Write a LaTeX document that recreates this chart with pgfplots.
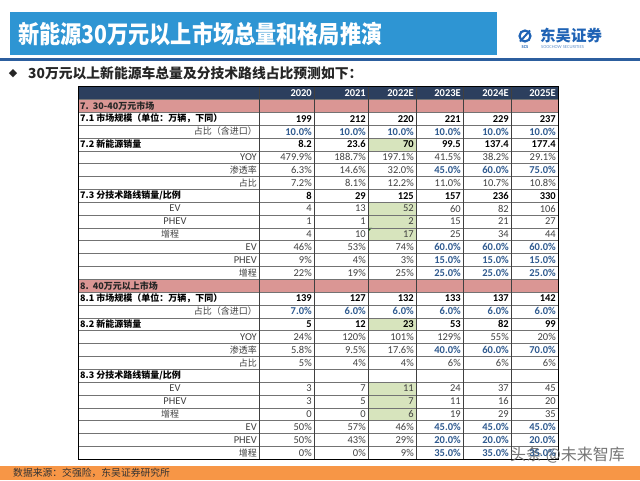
\documentclass[border=0pt]{standalone}
\usepackage{pgfplots}
\pgfplotsset{compat=1.18}
\usepackage{fontspec}
\setmainfont{Carlito}
\newfontfamily\cjk{Noto Sans CJK SC}
\newfontfamily\titlefont[FakeStretch=0.86]{Noto Sans CJK SC}
\newfontfamily\sym{DejaVu Sans}
\definecolor{titleblue}{HTML}{2E95D3}
\definecolor{lineblue}{HTML}{2C5E9E}
\definecolor{hdr}{HTML}{2C3F5E}
\definecolor{pinkrow}{HTML}{DA9694}
\definecolor{greencell}{HTML}{D7E4BD}
\definecolor{estblue}{HTML}{2F5A8F}
\definecolor{orangebar}{HTML}{F79646}
\definecolor{logoblue}{HTML}{1F63B5}
\definecolor{txt}{HTML}{404040}
\newcommand\fs[1]{\fontsize{#1}{#1}\selectfont}
\pgfplotsset{
  vals/.style 2 args={only marks, mark=none, nodes near coords, point meta=explicit symbolic,
    every node near coord/.append style={anchor=east, inner sep=0pt, font=#1, text=#2}},
}
\begin{document}
\begin{tikzpicture}
\begin{axis}[width=640pt,height=480pt,scale only axis,
  xmin=0,xmax=640,ymin=-6.7315,ymax=30.6226,y dir=reverse,
  hide axis,ticks=none,clip=false]
\coordinate (bl) at (axis cs:0,30.6226);
\coordinate (tr) at (axis cs:640,-6.7315);
% ---- backgrounds
\fill[titleblue] (axis cs:10,-5.798) rectangle (axis cs:497,-2.451);
\fill[lineblue] (axis cs:0,-2.218) rectangle (axis cs:640,-1.984);
\fill[hdr] (axis cs:78,0) rectangle (axis cs:558,1);
\fill[pinkrow] (axis cs:78,1) rectangle (axis cs:558,2);
\fill[pinkrow] (axis cs:78,15) rectangle (axis cs:558,16);
\fill[greencell] (axis cs:368,4) rectangle (axis cs:416,5);
\fill[greencell] (axis cs:368,9) rectangle (axis cs:416,12);
\fill[greencell] (axis cs:368,18) rectangle (axis cs:416,19);
\fill[greencell] (axis cs:368,23) rectangle (axis cs:416,26);
\fill[green!40!black] (axis cs:368,11) -- (axis cs:372,11) -- (axis cs:368,11.3) -- cycle;
\fill[orangebar] (axis cs:0,29.533) rectangle (axis cs:640,30.6226);
% ---- grid
\pgfplotsinvokeforeach{1,...,28}{\draw[black!55, line width=0.5pt] (axis cs:78,#1) -- (axis cs:558,#1);}
\pgfplotsinvokeforeach{259,314,368,416,463,511}{\draw[black!75, line width=0.6pt] (axis cs:#1,0) -- (axis cs:#1,29);}
\draw[black, line width=0.8pt] (axis cs:78,0) rectangle (axis cs:558,29);

% ---- header
\addplot[vals={\fs{10.5}\bfseries}{white}] coordinates {
 (312,0.5) [2020] (366,0.5) [2021] (414,0.5) [2022E] (461,0.5) [2023E] (509,0.5) [2024E] (556,0.5) [2025E]};

% ---- bold black values
\addplot[vals={\fs{10.5}\bfseries}{black}] coordinates {
 (312,2.5) [199] (366,2.5) [212] (414,2.5) [220] (461,2.5) [221] (509,2.5) [229] (556,2.5) [237]
 (312,4.5) [8.2] (366,4.5) [23.6] (414,4.5) [70] (461,4.5) [99.5] (509,4.5) [137.4] (556,4.5) [177.4]
 (312,8.5) [8] (366,8.5) [29] (414,8.5) [125] (461,8.5) [157] (509,8.5) [236] (556,8.5) [330]
 (312,16.5) [139] (366,16.5) [127] (414,16.5) [132] (461,16.5) [133] (509,16.5) [137] (556,16.5) [142]
 (312,18.5) [5] (366,18.5) [12] (414,18.5) [23] (461,18.5) [53] (509,18.5) [82] (556,18.5) [99]
};

% ---- blue bold (assumptions)
\addplot[vals={\fs{10.5}\bfseries}{estblue}] coordinates {
 (312,3.5) [10.0\%] (366,3.5) [10.0\%] (414,3.5) [10.0\%] (461,3.5) [10.0\%] (509,3.5) [10.0\%] (556,3.5) [10.0\%]
 (461,6.5) [45.0\%] (509,6.5) [60.0\%] (556,6.5) [75.0\%]
 (461,12.5) [60.0\%] (509,12.5) [60.0\%] (556,12.5) [60.0\%]
 (461,13.5) [15.0\%] (509,13.5) [15.0\%] (556,13.5) [15.0\%]
 (461,14.5) [25.0\%] (509,14.5) [25.0\%] (556,14.5) [25.0\%]
 (312,17.5) [7.0\%] (366,17.5) [6.0\%] (414,17.5) [6.0\%] (461,17.5) [6.0\%] (509,17.5) [6.0\%] (556,17.5) [6.0\%]
 (461,20.5) [40.0\%] (509,20.5) [60.0\%] (556,20.5) [70.0\%]
 (461,26.5) [45.0\%] (509,26.5) [45.0\%] (556,26.5) [45.0\%]
 (461,27.5) [20.0\%] (509,27.5) [20.0\%] (556,27.5) [20.0\%]
 (461,28.5) [35.0\%] (509,28.5) [35.0\%] (556,28.5) [35.0\%]
};

% ---- normal values
\addplot[vals={\fs{10.5}}{txt}] coordinates {
 (312,5.5) [479.9\%] (366,5.5) [188.7\%] (414,5.5) [197.1\%] (461,5.5) [41.5\%] (509,5.5) [38.2\%] (556,5.5) [29.1\%]
 (312,6.5) [6.3\%] (366,6.5) [14.6\%] (414,6.5) [32.0\%]
 (312,7.5) [7.2\%] (366,7.5) [8.1\%] (414,7.5) [12.2\%] (461,7.5) [11.0\%] (509,7.5) [10.7\%] (556,7.5) [10.8\%]
 (312,9.5) [4] (366,9.5) [13] (414,9.5) [52] (461,9.5) [60] (509,9.5) [82] (556,9.5) [106]
 (312,10.5) [1] (366,10.5) [1] (414,10.5) [2] (461,10.5) [15] (509,10.5) [21] (556,10.5) [27]
 (312,11.5) [4] (366,11.5) [10] (414,11.5) [17] (461,11.5) [25] (509,11.5) [34] (556,11.5) [44]
 (312,12.5) [46\%] (366,12.5) [53\%] (414,12.5) [74\%]
 (312,13.5) [9\%] (366,13.5) [4\%] (414,13.5) [3\%]
 (312,14.5) [22\%] (366,14.5) [19\%] (414,14.5) [25\%]
 (312,19.5) [24\%] (366,19.5) [120\%] (414,19.5) [101\%] (461,19.5) [129\%] (509,19.5) [55\%] (556,19.5) [20\%]
 (312,20.5) [5.8\%] (366,20.5) [9.5\%] (414,20.5) [17.6\%]
 (312,21.5) [5\%] (366,21.5) [4\%] (414,21.5) [4\%] (461,21.5) [6\%] (509,21.5) [6\%] (556,21.5) [6\%]
 (312,23.5) [3] (366,23.5) [7] (414,23.5) [11] (461,23.5) [24] (509,23.5) [37] (556,23.5) [45]
 (312,24.5) [3] (366,24.5) [5] (414,24.5) [7] (461,24.5) [11] (509,24.5) [16] (556,24.5) [20]
 (312,25.5) [0] (366,25.5) [0] (414,25.5) [6] (461,25.5) [19] (509,25.5) [29] (556,25.5) [35]
 (312,26.5) [50\%] (366,26.5) [57\%] (414,26.5) [46\%]
 (312,27.5) [50\%] (366,27.5) [43\%] (414,27.5) [29\%]
 (312,28.5) [0\%] (366,28.5) [0\%] (414,28.5) [9\%]
};

% ---- row labels: section headings (left)
\tikzset{lbl/.style={inner sep=0pt, font=\cjk\fs{9}, text=txt}}
\node[lbl, anchor=west, font=\cjk\fs{9}\bfseries, text=black!85] at (axis cs:80,1.5) {7.\ \ 30-40万元市场};
\node[lbl, anchor=west, font=\cjk\fs{9}\bfseries, text=black!85] at (axis cs:80,15.5) {8.\ \ 40万元以上市场};
\node[lbl, anchor=west, font=\cjk\fs{9}\bfseries, text=black] at (axis cs:80,2.5) {7.1 市场规模（单位：万辆，下同）};
\node[lbl, anchor=west, font=\cjk\fs{9}\bfseries, text=black] at (axis cs:80,4.5) {7.2 新能源销量};
\node[lbl, anchor=west, font=\cjk\fs{9}\bfseries, text=black] at (axis cs:80,8.5) {7.3 分技术路线销量/比例};
\node[lbl, anchor=west, font=\cjk\fs{9}\bfseries, text=black] at (axis cs:80,16.5) {8.1 市场规模（单位：万辆，下同）};
\node[lbl, anchor=west, font=\cjk\fs{9}\bfseries, text=black] at (axis cs:80,18.5) {8.2 新能源销量};
\node[lbl, anchor=west, font=\cjk\fs{9}\bfseries, text=black] at (axis cs:80,22.5) {8.3 分技术路线销量/比例};
% right aligned
\node[lbl, anchor=east] at (axis cs:257,3.5) {占比（含进口）};
\node[lbl, anchor=east, font=\fs{10.5}] at (axis cs:257,5.5) {YOY};
\node[lbl, anchor=east] at (axis cs:257,6.5) {渗透率};
\node[lbl, anchor=east] at (axis cs:257,7.5) {占比};
\node[lbl, anchor=east, font=\fs{10.5}] at (axis cs:257,12.5) {EV};
\node[lbl, anchor=east, font=\fs{10.5}] at (axis cs:257,13.5) {PHEV};
\node[lbl, anchor=east] at (axis cs:257,14.5) {增程};
\node[lbl, anchor=east] at (axis cs:257,17.5) {占比（含进口）};
\node[lbl, anchor=east, font=\fs{10.5}] at (axis cs:257,19.5) {YOY};
\node[lbl, anchor=east] at (axis cs:257,20.5) {渗透率};
\node[lbl, anchor=east] at (axis cs:257,21.5) {占比};
\node[lbl, anchor=east, font=\fs{10.5}] at (axis cs:257,26.5) {EV};
\node[lbl, anchor=east, font=\fs{10.5}] at (axis cs:257,27.5) {PHEV};
\node[lbl, anchor=east] at (axis cs:257,28.5) {增程};
% centered
\node[lbl, font=\fs{10.5}] at (axis cs:175,9.5) {EV};
\node[lbl, font=\fs{10.5}] at (axis cs:175,10.5) {PHEV};
\node[lbl] at (axis cs:170,11.5) {增程};
\node[lbl, font=\fs{10.5}] at (axis cs:175,23.5) {EV};
\node[lbl, font=\fs{10.5}] at (axis cs:175,24.5) {PHEV};
\node[lbl] at (axis cs:170,25.5) {增程};

% ---- title, subtitle, logo
\node[anchor=west, inner sep=0pt, text=white, font=\titlefont\bfseries\fs{24.6}] at (axis cs:18,-4.09) {新能源30万元以上市场总量和格局推演};
\node[inner sep=0pt, font=\sym\fs{11}, text=black!85] at (axis cs:13,-1.0) {◆};
\node[anchor=west, inner sep=0pt, font=\cjk\bfseries\fs{13.8}, text=black!85] at (axis cs:28,-1.0) {30万元以上新能源车总量及分技术路线占比预测如下：};
\draw[logoblue, line width=2.2pt] (axis cs:525,-3.93) circle [radius=5.5pt];
\draw[logoblue, line width=2pt] (axis cs:520,-3.5) -- (axis cs:530,-4.36);
\node[inner sep=0pt, font=\bfseries\fs{4.5}, text=logoblue] at (axis cs:525,-3.05) {SCS};
\node[anchor=west, inner sep=0pt, font=\cjk\bfseries\fs{15.5}, text=logoblue] at (axis cs:540,-3.95) {东吴证券};
\node[anchor=west, inner sep=0pt, font=\fs{4.6}, text=logoblue!70] at (axis cs:541,-3.05) {SOOCHOW SECURITIES};

% ---- footer, watermark
\node[anchor=west, inner sep=0pt, font=\cjk\fs{9.8}, text=black!80] at (axis cs:13,30.08) {数据来源：交强险，东吴证券研究所};
\node[anchor=west, inner sep=0pt, font=\cjk\fs{16}, text=black!60, opacity=0.9] at (axis cs:510,28.68) {头条 @未来智库};
\end{axis}
\pgfresetboundingbox
\path[use as bounding box] (bl) rectangle (tr);
\end{tikzpicture}
\end{document}
